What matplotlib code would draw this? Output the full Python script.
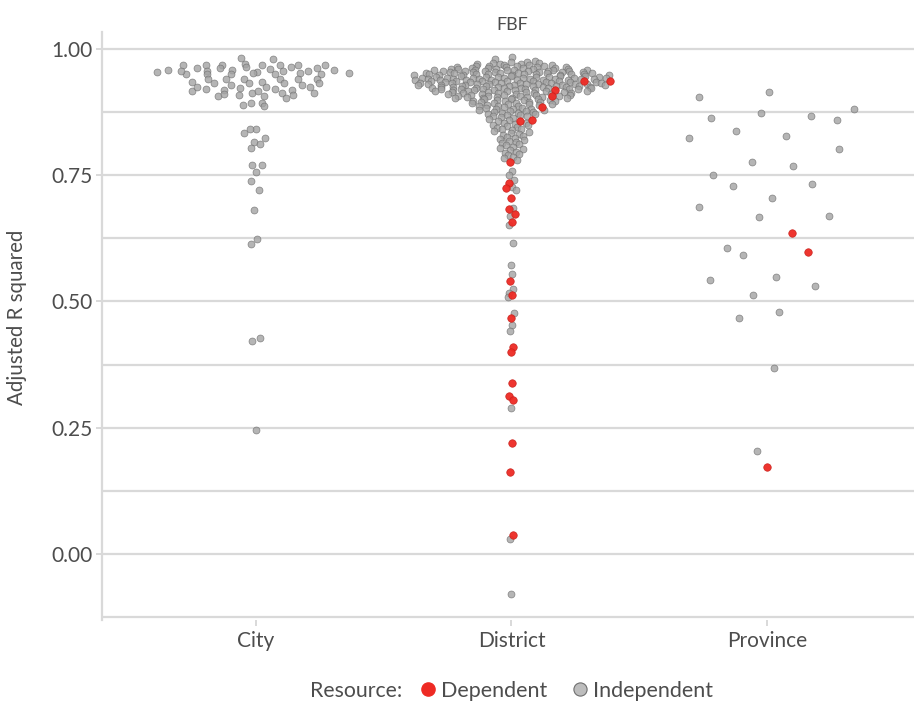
import numpy as np
import matplotlib
matplotlib.use("Agg")
import matplotlib.pyplot as plt
from matplotlib.lines import Line2D

plt.rcParams["font.family"] = ["Lato", "DejaVu Sans"]

# categories on the x axis
groups = ["City", "District", "Province"]

# adjusted R squared
city_independent = [
    0.981, 0.980, 0.970, 0.964,
    0.967, 0.968, 0.967, 0.962, 0.967, 0.968, 0.964, 0.968, 0.967, 0.958, 0.961,
    0.954, 0.958, 0.956, 0.949, 0.962, 0.955, 0.950, 0.958, 0.949, 0.954, 0.951,
    0.960, 0.949, 0.956, 0.956, 0.951, 0.950, 0.952,
    0.941, 0.940, 0.941, 0.941, 0.940, 0.941, 0.933, 0.932, 0.934, 0.925, 0.916,
    0.919, 0.919, 0.906, 0.910, 0.929, 0.923, 0.933, 0.934, 0.925, 0.921, 0.933,
    0.920, 0.929, 0.925, 0.913, 0.912, 0.903, 0.909, 0.909, 0.912, 0.917, 0.906,
    0.888, 0.893, 0.893, 0.886,
    0.842, 0.842, 0.834, 0.824, 0.816, 0.812, 0.803,
    0.770, 0.770, 0.756, 0.739, 0.721, 0.680, 0.624, 0.613, 0.422, 0.428, 0.245,
]
city_dependent = []

district_independent = [
    0.984, 0.979, 0.976,
    0.974, 0.973, 0.972, 0.971, 0.970, 0.970, 0.969, 0.968, 0.968, 0.967, 0.966,
    0.966, 0.965,
    0.965, 0.964, 0.964, 0.963, 0.963, 0.962, 0.962, 0.961, 0.961, 0.960, 0.960,
    0.960, 0.959, 0.959, 0.958, 0.958, 0.958, 0.957, 0.957, 0.957, 0.956, 0.956,
    0.956, 0.955, 0.955,
    0.955, 0.954, 0.954, 0.954, 0.953, 0.953, 0.953, 0.952, 0.952, 0.952, 0.951,
    0.951, 0.951, 0.950, 0.950, 0.950, 0.950, 0.949, 0.949, 0.949, 0.948, 0.948,
    0.948, 0.947, 0.947, 0.947, 0.946, 0.946, 0.946, 0.946, 0.945, 0.945,
    0.945, 0.944, 0.944, 0.944, 0.943, 0.943, 0.943, 0.942, 0.942, 0.942, 0.942,
    0.941, 0.941, 0.941, 0.940, 0.940, 0.940, 0.940, 0.939, 0.939, 0.939, 0.939,
    0.938, 0.938, 0.938, 0.937, 0.937, 0.937, 0.936, 0.936, 0.936, 0.935, 0.935,
    0.935, 0.934, 0.934, 0.934, 0.933, 0.933, 0.933, 0.932, 0.932, 0.932, 0.931,
    0.931, 0.931, 0.930, 0.930, 0.930, 0.930, 0.929, 0.929, 0.929, 0.928, 0.928,
    0.928, 0.927, 0.927, 0.927, 0.926, 0.926, 0.926, 0.925, 0.925, 0.925,
    0.924, 0.924, 0.924, 0.923, 0.923, 0.923, 0.922, 0.922, 0.922, 0.921, 0.921,
    0.921, 0.920, 0.920, 0.920, 0.919, 0.919, 0.919, 0.918, 0.918, 0.917, 0.917,
    0.917, 0.916, 0.916, 0.915,
    0.915, 0.914, 0.914, 0.913, 0.913, 0.912, 0.912, 0.911, 0.911, 0.910, 0.910,
    0.909, 0.909, 0.908, 0.908, 0.907, 0.907, 0.906, 0.906, 0.905,
    0.905, 0.904, 0.904, 0.903, 0.903, 0.902, 0.902, 0.901, 0.900, 0.900, 0.899,
    0.899, 0.898, 0.897, 0.897, 0.896, 0.895,
    0.895, 0.894, 0.893, 0.893, 0.892, 0.891, 0.890, 0.890, 0.889, 0.888, 0.887,
    0.886, 0.886,
    0.884, 0.883, 0.882, 0.881, 0.880, 0.880, 0.879, 0.878, 0.877, 0.876, 0.875,
    0.874, 0.873, 0.872, 0.871, 0.870, 0.869, 0.868, 0.867, 0.866,
    0.864, 0.862, 0.861, 0.858, 0.856,
    0.854, 0.853, 0.851, 0.850, 0.849, 0.847, 0.846,
    0.844, 0.842, 0.841, 0.839, 0.838, 0.836,
    0.834, 0.832, 0.830, 0.828, 0.826,
    0.824, 0.822, 0.820, 0.818, 0.816,
    0.814, 0.811, 0.809, 0.806,
    0.804, 0.801, 0.799, 0.796,
    0.794, 0.791, 0.789, 0.786,
    0.783, 0.779,
    0.758, 0.750, 0.740, 0.727, 0.720, 0.684, 0.669, 0.651, 0.615, 0.572, 0.555,
    0.524, 0.517, 0.508, 0.477, 0.453, 0.442, 0.290, 0.030, -0.079,
]
district_dependent = [
    0.937, 0.936, 0.918, 0.907, 0.885, 0.859, 0.857, 0.775,
    0.735, 0.724, 0.705, 0.682, 0.673, 0.658, 0.541, 0.512, 0.468, 0.409, 0.401,
    0.339, 0.314, 0.306, 0.220, 0.162, 0.039,
]

province_independent = [
    0.904, 0.915, 0.863, 0.872, 0.866, 0.859, 0.880, 0.824, 0.837, 0.828, 0.802,
    0.776, 0.768, 0.750, 0.729, 0.732, 0.705, 0.687, 0.667, 0.670, 0.606, 0.591,
    0.543, 0.549, 0.531, 0.513, 0.467, 0.480, 0.369, 0.205,
]
province_dependent = [0.636, 0.598, 0.173]

independent = [city_independent, district_independent, province_independent]
dependent = [city_dependent, district_dependent, province_dependent]

TEXT = "#4D4D4D"
GRID = "#D9D9D9"
RED = "#EE2A24"
GREY = "#A3A3A3"


def van_der_corput(n, base=2):
    seq = np.zeros(n)
    for i in range(1, n + 1):
        f, r, k = 1.0, 0.0, i
        while k > 0:
            f /= base
            r += f * (k % base)
            k //= base
        seq[i - 1] = r
    return seq


def quasirandom_offsets(y, width=0.4, adjust=0.5):
    # density-scaled quasirandom jitter (like ggbeeswarm)
    y = np.asarray(y, dtype=float)
    n = len(y)
    sd = y.std(ddof=1)
    iqr = np.subtract(*np.percentile(y, [75, 25]))
    lo = min(sd, iqr / 1.34) if iqr > 0 else sd
    bw = 0.9 * lo * n ** -0.2 * adjust
    grid = np.linspace(y.min() - 3 * bw, y.max() + 3 * bw, 512)

    def kde(pts):
        return np.exp(-0.5 * ((pts[:, None] - y[None, :]) / bw) ** 2).sum(axis=1)

    dens = kde(y) / kde(grid).max()
    ranks = np.argsort(np.argsort(y, kind="stable"), kind="stable")
    offset = van_der_corput(n)[ranks]
    return (offset - 0.5) * 2 * dens * width


fig = plt.figure(figsize=(9.14, 7.02), dpi=100)
ax = fig.add_axes([0.1116, 0.1168, 0.896, 0.8376])

for i, name in enumerate(groups):
    ind = np.array(independent[i], dtype=float)
    dep = np.array(dependent[i], dtype=float)
    allv = np.concatenate([ind, dep])
    xs = i + quasirandom_offsets(allv)
    n_ind = len(ind)
    ax.scatter(xs[:n_ind], ind, s=25, color=GREY, edgecolor="#6F6F6F",
               linewidth=0.5, alpha=0.8, zorder=3)
    if len(dep):
        ax.scatter(xs[n_ind:], dep, s=29, color=RED, edgecolor="#C8211B",
                   linewidth=0.5, alpha=0.95, zorder=4)

ax.set_xlim(-0.6, 2.6)
ax.set_ylim(-0.13, 1.033)
ax.set_xticks(range(len(groups)))
ax.set_xticklabels(groups)
ax.set_yticks([0.0, 0.25, 0.5, 0.75, 1.0])
ax.set_yticklabels(["0.00", "0.25", "0.50", "0.75", "1.00"])
ax.set_yticks(np.arange(-0.125, 1.0, 0.25), minor=True)

ax.grid(axis="y", which="both", color=GRID, linewidth=1.6, zorder=0)
ax.set_axisbelow(True)

for side in ["top", "right", "bottom"]:
    ax.spines[side].set_visible(False)
ax.spines["left"].set_color(GRID)
ax.spines["left"].set_linewidth(1.6)

ax.tick_params(axis="both", which="major", colors=GRID, length=4, width=1.4,
               labelcolor=TEXT, labelsize=15)
ax.tick_params(axis="y", which="minor", length=0)
ax.tick_params(axis="y", pad=3)
ax.tick_params(axis="x", pad=4)

ax.set_ylabel("Adjusted R squared", fontsize=14.8, color=TEXT)
ax.yaxis.set_label_coords(-0.0916, 0.514)

fig.text(512 / 914, 1 - 25 / 702, "FBF", ha="center", va="center",
         fontsize=13, color=TEXT)

# legend along the bottom
fig.text(310 / 914, 1 - 691 / 702, "Resource:", ha="left", va="center",
         fontsize=15.3, color=TEXT)
handles = [
    Line2D([], [], linestyle="none", marker="o", markersize=9.5,
           markerfacecolor=RED, markeredgecolor=RED, label="Dependent"),
    Line2D([], [], linestyle="none", marker="o", markersize=9.5,
           markerfacecolor="#BDBDBD", markeredgecolor="#6F6F6F",
           markeredgewidth=0.8, label="Independent"),
]
leg = fig.legend(handles=handles, loc="center left",
                 bbox_to_anchor=(417 / 914, 1 - 691 / 702), ncol=2,
                 frameon=False, handlelength=1.0, handletextpad=0.12,
                 columnspacing=1.0, borderpad=0, borderaxespad=0,
                 fontsize=15.5)
for t in leg.get_texts():
    t.set_color(TEXT)

fig.savefig("out.png", dpi=100)
